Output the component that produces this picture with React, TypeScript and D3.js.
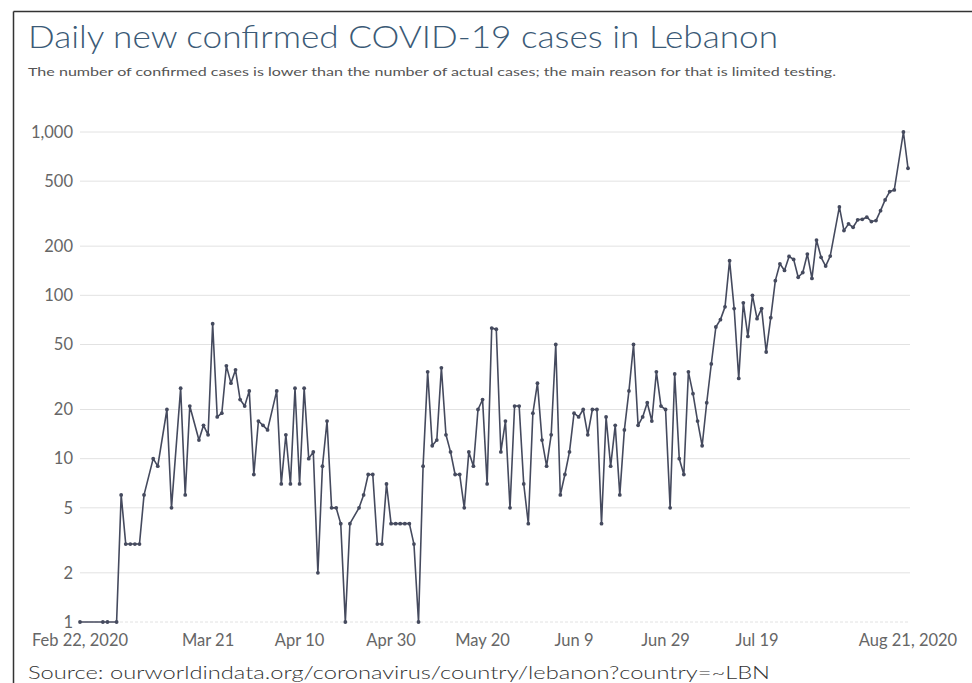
import React from "react";
import * as d3 from "d3";

const titleText = "Daily new confirmed COVID-19 cases in Lebanon";
const subtitleText =
  "The number of confirmed cases is lower than the number of actual cases; the main reason for that is limited testing.";
const sourceText = "Source: ourworldindata.org/coronavirus/country/lebanon?country=~LBN";

const startDate = "2020-02-22";

// Daily new confirmed cases, one entry per day from Feb 22, 2020 to Aug 21, 2020 (null = not shown)
const dailyCases: (number | null)[] = [
  1, null, null, null, null, 1, 1, null, 1, 6,
  3, 3, 3, 3, 6, null, 10, 9, null, 20,
  5, null, 27, 6, 21, null, 13, 16, 14, 67,
  18, 19, 37, 29, 35, 23, 21, 26, 8, 17,
  16, 15, null, 26, 7, 14, 7, 27, 7, 27,
  10, 11, 2, 9, 17, 5, 5, 4, 1, 4,
  null, 5, 6, 8, 8, 3, 3, 7, 4, 4,
  4, 4, 4, 3, 1, 9, 34, 12, 13, 36,
  14, 11, 8, 8, 5, 11, 9, 20, 23, 7,
  63, 62, 11, 17, 5, 21, 21, 7, 4, 19,
  29, 13, 9, 14, 50, 6, 8, 11, 19, 18,
  20, 14, 20, 20, 4, 18, 9, 16, 6, 15,
  26, 50, 16, 18, 22, 17, 34, 21, 20, 5,
  33, 10, 8, 34, 25, 17, 12, 22, 38, 64,
  71, 85, 163, 83, 31, 90, 56, 100, 72, 83,
  45, 73, 123, 156, 142, 173, 166, 129, 138, 179,
  127, 218, 171, 151, 174, null, 348, 249, 274, 261,
  290, 292, 301, 283, 287, 330, 384, 432, 442, null,
  1000, 600,
];

const yTickValues = [1, 2, 5, 10, 20, 50, 100, 200, 500, 1000];
const yTickLabels = ["1", "2", "5", "10", "20", "50", "100", "200", "500", "1,000"];

const xTickDates = [
  "2020-02-22", "2020-03-21", "2020-04-10", "2020-04-30", "2020-05-20",
  "2020-06-09", "2020-06-29", "2020-07-19", "2020-08-21",
];
const xTickLabels = [
  "Feb 22, 2020", "Mar 21", "Apr 10", "Apr 30", "May 20",
  "Jun 9", "Jun 29", "Jul 19", "Aug 21, 2020",
];

const parse = (s: string) => {
  const [y, m, d] = s.split("-").map(Number);
  return new Date(y, m - 1, d);
};

export default function App() {
  const W = 972;
  const H = 683;
  const start = parse(startDate);
  const points = dailyCases
    .map((v, i) => ({ date: d3.timeDay.offset(start, i), v }))
    .filter((p) => p.v !== null && (p.v as number) > 0) as { date: Date; v: number }[];
  const end = d3.timeDay.offset(start, dailyCases.length - 1);

  const x = d3.scaleTime().domain([start, end]).range([80, 908]);
  const y = d3.scaleLog().domain([1, 1000]).range([622, 132]);

  const line = d3
    .line<{ date: Date; v: number }>()
    .x((d) => x(d.date))
    .y((d) => y(d.v));

  const font = "Lato, 'Open Sans', sans-serif";
  const lineColor = "#454a5e";

  return (
    <svg
      width={W}
      height={H}
      style={{ position: "absolute", left: 0, top: 0, background: "#fff" }}
    >
      <rect x={0} y={0} width={W} height={H} fill="#fff" />
      {/* frame */}
      <line x1={13.5} y1={11.5} x2={W} y2={11.5} stroke="#333" strokeWidth={1.5} />
      <line x1={13.5} y1={11.5} x2={13.5} y2={H} stroke="#333" strokeWidth={1.5} />

      <text
        x={28}
        y={48}
        fontFamily={font}
        fontSize={32}
        fontWeight={300}
        fill="#3b5a76"
        textLength={750}
        lengthAdjust="spacingAndGlyphs"
      >
        {titleText}
      </text>
      <text
        x={28}
        y={76}
        fontFamily={font}
        fontSize={12}
        fill="#555"
        textLength={808}
        lengthAdjust="spacingAndGlyphs"
      >
        {subtitleText}
      </text>

      {/* grid + y labels */}
      {yTickValues.map((v, i) => (
        <g key={v}>
          <line
            x1={80}
            x2={910}
            y1={y(v)}
            y2={y(v)}
            stroke="#e2e2e2"
            strokeWidth={1}
            strokeDasharray={v === 1 ? "3,2" : undefined}
          />
          <text
            x={73}
            y={y(v)}
            dy="0.35em"
            textAnchor="end"
            fontFamily={font}
            fontSize={16.5}
            fill="#666"
          >
            {yTickLabels[i]}
          </text>
        </g>
      ))}

      {/* x labels */}
      {xTickDates.map((s, i) => (
        <text
          key={s}
          x={x(parse(s))}
          y={646}
          textAnchor="middle"
          fontFamily={font}
          fontSize={16.5}
          fill="#666"
        >
          {xTickLabels[i]}
        </text>
      ))}

      {/* series */}
      <path d={line(points) || ""} fill="none" stroke={lineColor} strokeWidth={1.6} strokeLinejoin="round" />
      {points.map((p, i) => (
        <circle key={i} cx={x(p.date)} cy={y(p.v)} r={1.9} fill={lineColor} />
      ))}

      <text
        x={28}
        y={679}
        fontFamily={font}
        fontSize={18}
        fontWeight={300}
        fill="#333"
        textLength={742}
        lengthAdjust="spacingAndGlyphs"
      >
        {sourceText}
      </text>
    </svg>
  );
}
